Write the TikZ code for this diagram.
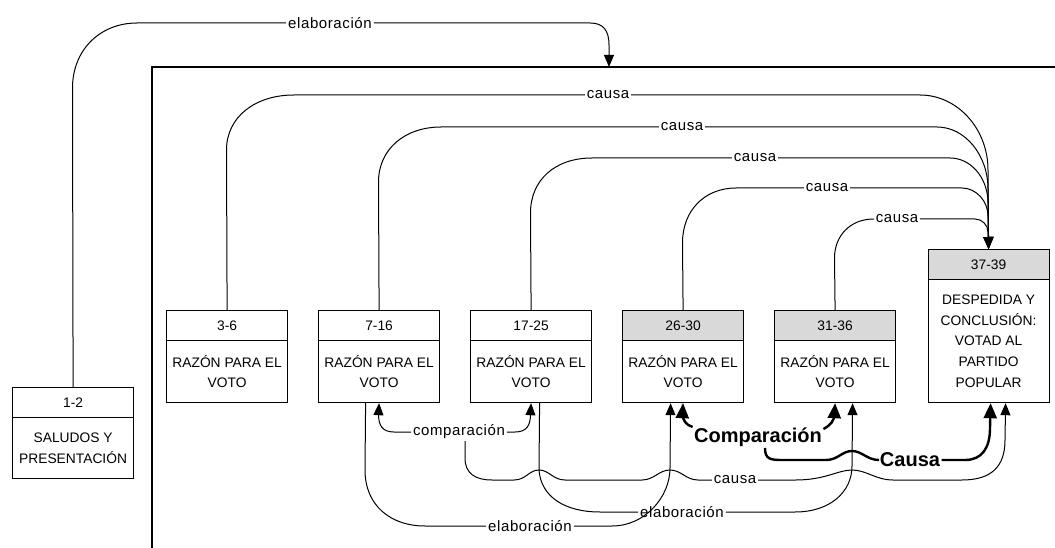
\documentclass[tikz,border=0pt]{standalone}
\usepackage{fontspec}
\setmainfont{Liberation Sans}
\newfontfamily\labfont[LetterSpace=4]{Liberation Sans}
\usetikzlibrary{calc,arrows.meta}
\begin{document}
\begin{tikzpicture}[x=1pt,y=-1pt,line width=1pt,
  arr/.style={-{Triangle[length=12pt,width=10pt]}},
  thickline/.style={line width=2.4pt},
  thickarr/.style={line width=2.4pt,-{Triangle[length=15pt,width=13pt]}},
  hdr/.style={draw,line width=1.2pt,minimum width=121pt,minimum height=30pt,inner sep=0pt,anchor=north west,font=\fontsize{13.8}{16}\selectfont},
  ghdr/.style={hdr,fill=black!15},
  bdy/.style={draw,line width=1.2pt,minimum width=121pt,inner sep=0pt,anchor=north west,align=center,font=\fontsize{13.8}{20.8}\selectfont},
  lab/.style={fill=white,inner sep=1.5pt,font=\labfont\fontsize{15}{17}\selectfont},
  biglab/.style={fill=white,inner sep=1pt,font=\bfseries\fontsize{20}{22}\selectfont},
]
\useasboundingbox (0,0) rectangle (1055,548);
% frame
\draw[line width=1.3pt] (152,548) -- (152,67) -- (1055,67);
\coordinate (ftop) at (609,67);
% boxes
\node[hdr] (h12) at (12,387) {1-2};
\node[bdy,minimum height=61pt] (b12) at (12,417) {SALUDOS Y\\PRESENTACIÓN};
\node[hdr] (h36) at (166,310) {3-6};
\node[bdy,minimum height=62pt] (b36) at (166,340) {RAZÓN PARA EL\\VOTO};
\node[hdr] (h716) at (318,310) {7-16};
\node[bdy,minimum height=62pt] (b716) at (318,340) {RAZÓN PARA EL\\VOTO};
\node[hdr] (h1725) at (470,310) {17-25};
\node[bdy,minimum height=62pt] (b1725) at (470,340) {RAZÓN PARA EL\\VOTO};
\node[ghdr] (h2630) at (622,310) {26-30};
\node[bdy,minimum height=62pt] (b2630) at (622,340) {RAZÓN PARA EL\\VOTO};
\node[ghdr] (h3136) at (774,310) {31-36};
\node[bdy,minimum height=62pt] (b3136) at (774,340) {RAZÓN PARA EL\\VOTO};
\node[ghdr] (h3739) at (927.5,249) {37-39};
\node[bdy,minimum height=123pt] (b3739) at (927.5,279) {DESPEDIDA Y\\CONCLUSIÓN:\\VOTAD AL\\PARTIDO\\POPULAR};
% labels
\node[lab] (lel1) at (330,23) {elaboración};
\node[lab] (lc1) at (608,95) {causa};
\node[lab] (lc2) at (682,127) {causa};
\node[lab] (lc3) at (755,158) {causa};
\node[lab] (lc4) at (827,188) {causa};
\node[lab] (lc5) at (897,219) {causa};
\node[lab] (lcomp) at (459,432) {comparación};
\node[lab] (lcausa) at (735,480) {causa};
\node[lab] (lel2) at (530,526) {elaboración};
\node[lab] (lel3) at (682,512) {elaboración};
\node[biglab] (lC) at (758,437) {Comparación};
\node[biglab] (lCa) at (910,460) {Causa};
% top elaboracion
\draw (h12.north) -- (72.5,88) .. controls (72.5,50) and (100,23) .. (137,23) -- (lel1.west);
\draw[arr] (lel1.east) -- (590,23) .. controls (603,23) and (609,30) .. (609,45) -- (ftop);
% causa arcs
\draw (h36.north) -- (226.5,150) .. controls (226.5,117) and (255,95) .. (294,95) -- (lc1.west);
\draw[arr] (lc1.east) -- (920,95) .. controls (957.4,95) and (988,128.75) .. (988,170) -- (h3739.north);
\draw (h716.north) -- (378.5,182) .. controls (378.5,149) and (405,127) .. (441,127) -- (lc2.west);
\draw[arr] (lc2.east) -- (937,127) .. controls (965,127) and (988,155) .. (988,189) -- (h3739.north);
\draw (h1725.north) -- (530.5,213) .. controls (530.5,180) and (555,158) .. (592,158) -- (lc3.west);
\draw[arr] (lc3.east) -- (950,158) .. controls (971,158) and (988,178) .. (988,203) -- (h3739.north);
\draw (h2630.north) -- (682.5,243) .. controls (682.5,210) and (705,188) .. (736,188) -- (lc4.west);
\draw[arr] (lc4.east) -- (962,188) .. controls (976,188) and (988,201) .. (988,216) -- (h3739.north);
\draw (h3136.north) -- (834.5,258) .. controls (834.5,236) and (850,219) .. (lc5.west);
\draw[arr] (lc5.east) -- (975,219) .. controls (982,219) and (988,225) .. (988,232) -- (h3739.north);
% comparacion (thin)
\draw[arr] (lcomp.west) -- (394,432) .. controls (382,432) and (378.5,425) .. (378.5,414) -- (b716.south);
\draw[arr] (lcomp.east) -- (515,432) .. controls (527,432) and (530.5,425) .. (530.5,414) -- (b1725.south);
% lower elaboracion 7-16 -> 26-30
\draw ($(b716.south)+(-13.5,0)$) -- (365,470) .. controls (365,505) and (390,526) .. (425,526) -- (lel2.west);
\draw[arr] (lel2.east) -- (612,526) .. controls (645,526) and (670,497) .. (670,468) -- ($(b2630.south)+(-12.5,0)$);
% middle elaboracion 17-25 -> 31-36
\draw ($(b1725.south)+(8.5,0)$) -- (539,470) .. controls (541,497) and (565,512) .. (600,512) -- (lel3.west);
\draw[arr] (lel3.east) -- (795,512) .. controls (830,512) and (852,492) .. (852,466) -- ($(b3136.south)+(17.5,0)$);
% thin causa from comparacion -> 37-39
\draw ($(lcomp.south)+(6,0)$) -- (465,458) .. controls (465,474) and (476,480) .. (492,480) -- (514,480) .. controls (526,480) and (529,470) .. (539,470) .. controls (549,470) and (553,480) .. (565,480) -- (642,480) .. controls (654,480) and (659,470) .. (670,470) .. controls (681,470) and (686,480) .. (698,480) -- (lcausa.west);
\draw[arr] (lcausa.east) -- (796,480) .. controls (825,480) and (838,470) .. (852,470) .. controls (866,470) and (876,480) .. (893,480) -- (962,480) .. controls (992,480) and (1005,466) .. (1005,440) -- ($(b3739.south)+(17,0)$);
% thick Comparacion
\draw[thickarr] ($(lC.west)+(0,-10)$) .. controls (686,425) and (682.5,420) .. (682.5,414) -- (b2630.south);
\draw[thickarr] ($(lC.east)+(0,-8)$) .. controls (831,425) and (834.5,420) .. (834.5,414) -- (b3136.south);
% thick Causa
\draw[thickline] ($(lC.south)+(7,0)$) .. controls (765,459) and (770,460) .. (782,460) -- (826,460) .. controls (838,460) and (842,451) .. (852,451) .. controls (862,451) and (867,460) .. (879,460) -- (lCa.west);
\draw[thickarr] (lCa.east) -- (965,460) .. controls (982,460) and (990,448) .. (990,428) -- ($(b3739.south)+(2,0)$);
\end{tikzpicture}
\end{document}
